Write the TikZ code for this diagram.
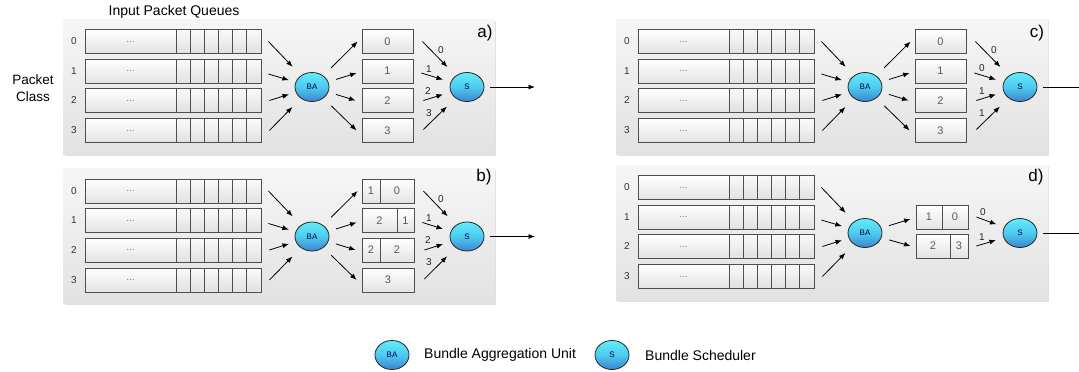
\documentclass[tikz,border=0pt]{standalone}
\usepackage{fontspec}
\setmainfont{Liberation Sans}
\usetikzlibrary{arrows.meta,shapes.geometric}

\definecolor{panelTop}{HTML}{F6F6F6}
\definecolor{panelBot}{HTML}{E2E2E2}
\definecolor{qborder}{HTML}{4E4E4E}
\definecolor{unitTop}{HTML}{62ECFC}
\definecolor{unitMid}{HTML}{4CCBEF}
\definecolor{unitBot}{HTML}{3E84CE}
\definecolor{numgray}{HTML}{5A5A5A}

\tikzset{
  panelbox/.style={top color=panelTop, bottom color=panelBot, draw=none},
  queuebox/.style={rectangle, draw=qborder, line width=0.8pt, top color=white,
    bottom color=gray!22, minimum height=24pt, inner sep=0pt},
  cellbox/.style={draw=qborder, line width=0.8pt, top color=gray!4, bottom color=gray!24},
  qbox/.style={queuebox, font=\fontsize{11}{12}\selectfont, text=numgray},
  unit/.style={ellipse, draw=black!85, line width=0.8pt, top color=unitTop,
    bottom color=unitBot, middle color=unitMid, minimum width=34pt, minimum height=29pt, inner sep=0pt,
    font=\fontsize{8}{9}\selectfont, text=black!70!blue},
  arr/.style={-{Latex[length=6.5pt,width=5pt]}, line width=0.8pt},
  plainline/.style={line width=0.8pt},
  rowlbl/.style={font=\fontsize{10}{11}\selectfont, text=black!80},
  dotstext/.style={font=\fontsize{10}{11}\selectfont, text=gray},
  wlbl/.style={font=\fontsize{10}{11}\selectfont, text=black!85, inner sep=0pt},
  tag/.style={font=\fontsize{17}{18}\selectfont, inner sep=0pt},
  caption/.style={font=\fontsize{13.5}{17.5}\selectfont, align=center},
  legendtext/.style={font=\fontsize{14}{15}\selectfont, anchor=west, inner sep=0pt},
}

% background panel, four input queues, aggregation unit and scheduler
\newcommand\CommonPart[1]{%
  \fill[black!12] (64.5,20.5) rectangle (496,155.5);
  \fill[panelbox] (63,19) rectangle (495,154);
  \foreach \r/\y in {0/41.5,1/71,2/100.5,3/130.5}{%
    \node[rowlbl] at (74,\y) {\r};
    \node[queuebox, minimum width=176pt] (#1q\r) at (173,\y) {};
    \node[dotstext] at (130.5,\y) {...};
    \foreach \k in {0,...,5}{\draw[cellbox] ({176+\k*14.17},\y-12) rectangle ++(14.17,24);}
  }%
  \node[unit] (#1BA) at (312,87) {BA};
  \node[unit] (#1S) at (467,87) {S};
  \draw[arr, shorten >=12pt] ([xshift=7pt]#1q0.east) -- (#1BA);
  \draw[arr, shorten >=7pt] ([xshift=7pt,yshift=-3pt]#1q1.east) -- (#1BA);
  \draw[arr, shorten >=7pt] ([xshift=8pt]#1q2.east) -- (#1BA);
  \draw[arr, shorten >=12pt] ([xshift=8pt]#1q3.east) -- (#1BA);
}

\begin{document}
\begin{tikzpicture}[x=1pt, y=-1pt]
\useasboundingbox[fill=white] (0,0) rectangle (1079,372);

\node[font=\fontsize{14}{15}\selectfont] (title) at (174,12) {Input Packet Queues};
\node[caption] (classlbl) at (33,88) {Packet\\Class};

% ---------------- a) ----------------
\begin{scope}
  \CommonPart{a}
  \foreach \r/\y in {0/41.5,1/71,2/100.5,3/130.5}{%
    \node[qbox, minimum width=51pt] (aO\r) at (387.5,\y) {\r};}
  \draw[arr, shorten <=11pt] (aBA) -- ([xshift=-4pt]aO0.west);
  \draw[arr, shorten <=8pt] (aBA) -- ([xshift=-5pt,yshift=-2pt]aO1.west);
  \draw[arr, shorten <=8pt] (aBA) -- ([xshift=-6pt]aO2.west);
  \draw[arr, shorten <=11pt] (aBA) -- ([xshift=-5pt]aO3.west);
  \draw[arr, shorten >=12pt] ([xshift=9pt]aO0.east) -- (aS);
  \draw[arr, shorten >=8pt] ([xshift=8pt,yshift=-2pt]aO1.east) -- (aS);
  \draw[arr, shorten >=8pt] ([xshift=10pt]aO2.east) -- (aS);
  \draw[arr, shorten >=12pt] ([xshift=10pt,yshift=1pt]aO3.east) -- (aS);
  \node[wlbl] (aL0) at (441,50) {0};
  \node[wlbl] (aL1) at (429,69) {1};
  \node[wlbl] (aL2) at (428,91) {2};
  \node[wlbl] (aL3) at (429,113) {3};
  \coordinate (aOut) at (535,87);
  \draw[arr] ([xshift=6pt]aS.east) -- (aOut);
  \node[tag] (aTag) at (485,33) {a)};
\end{scope}

% ---------------- b) ----------------
\begin{scope}[shift={(0,149.5)}]
  \CommonPart{b}
  \node[qbox, minimum width=18pt] (bO0a) at (371,41.5) {1};
  \node[qbox, minimum width=34pt] (bO0b) at (397,41.5) {0};
  \node[qbox, minimum width=35pt] (bO1a) at (379.5,71) {2};
  \node[qbox, minimum width=17pt] (bO1b) at (405.5,71) {1};
  \node[qbox, minimum width=18pt] (bO2a) at (371,100.5) {2};
  \node[qbox, minimum width=34pt] (bO2b) at (397,100.5) {2};
  \node[qbox, minimum width=52pt] (bO3) at (388,130.5) {3};
  \draw[arr, shorten <=11pt] (bBA) -- ([xshift=-4pt]bO0a.west);
  \draw[arr, shorten <=8pt] (bBA) -- ([xshift=-5pt,yshift=-2pt]bO1a.west);
  \draw[arr, shorten <=8pt] (bBA) -- ([xshift=-6pt]bO2a.west);
  \draw[arr, shorten <=11pt] (bBA) -- ([xshift=-5pt]bO3.west);
  \draw[arr, shorten >=12pt] ([xshift=9pt]bO0b.east) -- (bS);
  \draw[arr, shorten >=8pt] ([xshift=8pt,yshift=-2pt]bO1b.east) -- (bS);
  \draw[arr, shorten >=8pt] ([xshift=10pt]bO2b.east) -- (bS);
  \draw[arr, shorten >=12pt] ([xshift=10pt,yshift=1pt]bO3.east) -- (bS);
  \node[wlbl] (bL0) at (441,50) {0};
  \node[wlbl] (bL1) at (429,69) {1};
  \node[wlbl] (bL2) at (428,91) {2};
  \node[wlbl] (bL3) at (429,113) {3};
  \coordinate (bOut) at (535,87);
  \draw[arr] ([xshift=6pt]bS.east) -- (bOut);
  \node[tag] (bTag) at (484,27.5) {b)};
\end{scope}

% ---------------- c) ----------------
\begin{scope}[shift={(553,0)}]
  \CommonPart{c}
  \foreach \r/\y in {0/41.5,1/71,2/100.5,3/130.5}{%
    \node[qbox, minimum width=51pt] (cO\r) at (387.5,\y) {\r};}
  \draw[arr, shorten <=11pt] (cBA) -- ([xshift=-4pt]cO0.west);
  \draw[arr, shorten <=8pt] (cBA) -- ([xshift=-5pt,yshift=-2pt]cO1.west);
  \draw[arr, shorten <=8pt] (cBA) -- ([xshift=-6pt]cO2.west);
  \draw[arr, shorten <=11pt] (cBA) -- ([xshift=-5pt]cO3.west);
  \draw[arr, shorten >=12pt] ([xshift=9pt]cO0.east) -- (cS);
  \draw[arr, shorten >=8pt] ([xshift=8pt,yshift=-2pt]cO1.east) -- (cS);
  \draw[arr, shorten >=8pt] ([xshift=10pt]cO2.east) -- (cS);
  \draw[arr, shorten >=12pt] ([xshift=10pt,yshift=1pt]cO3.east) -- (cS);
  \node[wlbl] (cL0) at (441,50) {0};
  \node[wlbl] (cL1) at (429,68) {0};
  \node[wlbl] (cL2) at (429,91) {1};
  \node[wlbl] (cL3) at (429,113) {1};
  \coordinate (cOut) at (526,87);
  \draw[plainline] ([xshift=6pt]cS.east) -- (cOut);
  \node[tag] (cTag) at (484,33) {c)};
\end{scope}

% ---------------- d) ----------------
\begin{scope}[shift={(553,146)}]
  \CommonPart{d}
  \node[qbox, minimum width=26pt] (dO0a) at (376,71) {1};
  \node[qbox, minimum width=26pt] (dO0b) at (402,71) {0};
  \node[qbox, minimum width=34pt] (dO1a) at (380,100) {2};
  \node[qbox, minimum width=18pt] (dO1b) at (406,100) {3};
  \draw[arr, shorten <=8pt] (dBA) -- ([xshift=-5pt,yshift=-2pt]dO0a.west);
  \draw[arr, shorten <=8pt] (dBA) -- ([xshift=-5pt]dO1a.west);
  \draw[arr, shorten >=8pt] ([xshift=8pt]dO0b.east) -- (dS);
  \draw[arr, shorten >=8pt] ([xshift=8pt]dO1b.east) -- (dS);
  \node[wlbl] (dL0) at (430,66) {0};
  \node[wlbl] (dL1) at (429,91) {1};
  \coordinate (dOut) at (526,87);
  \draw[plainline] ([xshift=6pt]dS.east) -- (dOut);
  \node[tag] (dTag) at (483,31.5) {d)};
\end{scope}

% ---------------- legend ----------------
\node[unit] (legBA) at (392,355) {BA};
\node[legendtext] (legBAtext) at (424,355) {Bundle Aggregation Unit};
\node[unit] (legS) at (612,355) {S};
\node[legendtext] (legStext) at (645,355) {Bundle Scheduler};
\end{tikzpicture}
\end{document}
